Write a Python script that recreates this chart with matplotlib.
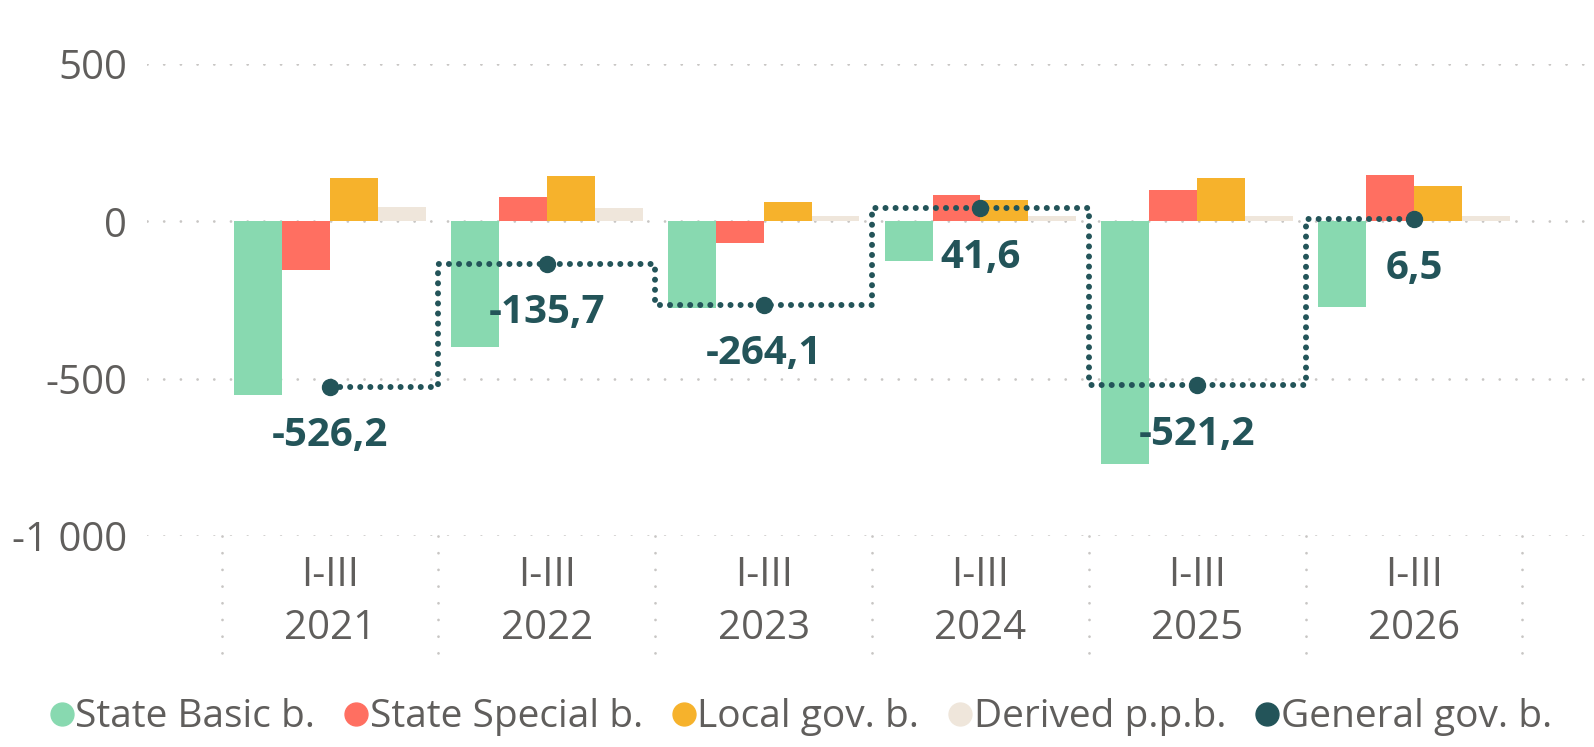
import matplotlib.pyplot as plt
from matplotlib.lines import Line2D
import numpy as np

# Datos
periodos = ['I-III\n2021', 'I-III\n2022', 'I-III\n2023', 'I-III\n2024', 'I-III\n2025', 'I-III\n2026']
state_basic = [-553, -400, -274, -126, -770, -271]
state_special = [-155, 79, -68, 84, 100, 148]
local_gov = [139, 145, 63, 68, 137, 114]
derived_ppb = [47, 44, 16, 19, 16, 19]
general_gov = [-526.2, -135.7, -264.1, 41.6, -521.2, 6.5]
etiquetas = ['-526,2', '-135,7', '-264,1', '41,6', '-521,2', '6,5']

series = ['State Basic b.', 'State Special b.', 'Local gov. b.', 'Derived p.p.b.']
colores = ['#88D9B0', '#FF6F61', '#F6B22C', '#EFE6DB']
color_linea = '#235459'
gris = '#605E5C'

plt.rcParams['font.family'] = ['Open Sans', 'DejaVu Sans']

fig = plt.figure(figsize=(15.94, 7.47), dpi=100)
ax = fig.add_axes([0.092, 0.2825, 0.908, 0.6315])

x = np.arange(len(periodos))
ancho = 0.221
valores = [state_basic, state_special, local_gov, derived_ppb]
for i, (vals, col, nom) in enumerate(zip(valores, colores, series)):
    ax.bar(x + (i - 1.5) * ancho, vals, ancho, color=col, label=nom, zorder=2)

# Linea escalonada punteada del gobierno general
ax.plot(x, general_gov, drawstyle='steps-mid', color=color_linea, lw=6 * 72 / 100,
        linestyle=(0, (0.01, 1.67)), dash_capstyle='round', zorder=3)
ax.plot(x, general_gov, 'o', color=color_linea, ms=11.5, zorder=4)

for xi, yi, txt in zip(x, general_gov, etiquetas):
    ax.annotate(txt, (xi, yi), xytext=(0, -35), textcoords='offset points',
                ha='center', va='center', fontsize=29, fontweight='bold',
                color=color_linea, zorder=5)

ax.set_xlim(-0.846, 5.83)
ax.set_ylim(-1000, 500)
ax.set_yticks([500, 0, -500, -1000])
ax.set_yticklabels(['500', '0', '-500', '-1 000'])
ax.set_xticks(x)
ax.set_xticklabels(periodos, linespacing=1.4)
ax.tick_params(axis='both', length=0, labelsize=29, colors=gris)
ax.tick_params(axis='y', pad=14)
ax.tick_params(axis='x', pad=14)

ax.grid(axis='y', color='#C8C6C4', linestyle=(0, (0.01, 6)), lw=2, dash_capstyle='round', zorder=0)
for s in ax.spines.values():
    s.set_visible(False)

# Separadores verticales entre categorias
for b in np.arange(-0.5, len(periodos), 1.0):
    ax.plot([b, b], [0, -0.265], transform=ax.get_xaxis_transform(), clip_on=False,
            color='#C8C6C4', linestyle=(0, (0.01, 6)), lw=2, dash_capstyle='round')

leg_handles = [Line2D([], [], marker='o', ls='', color=c, ms=16.5) for c in colores + [color_linea]]
fig.legend(leg_handles, series + ['General gov. b.'], loc='center', bbox_to_anchor=(0.5, 0.04),
           ncol=5, frameon=False, fontsize=28, labelcolor=gris, handletextpad=-0.15,
           columnspacing=0.55, handlelength=1.0)

fig.savefig('out.png', dpi=100)
